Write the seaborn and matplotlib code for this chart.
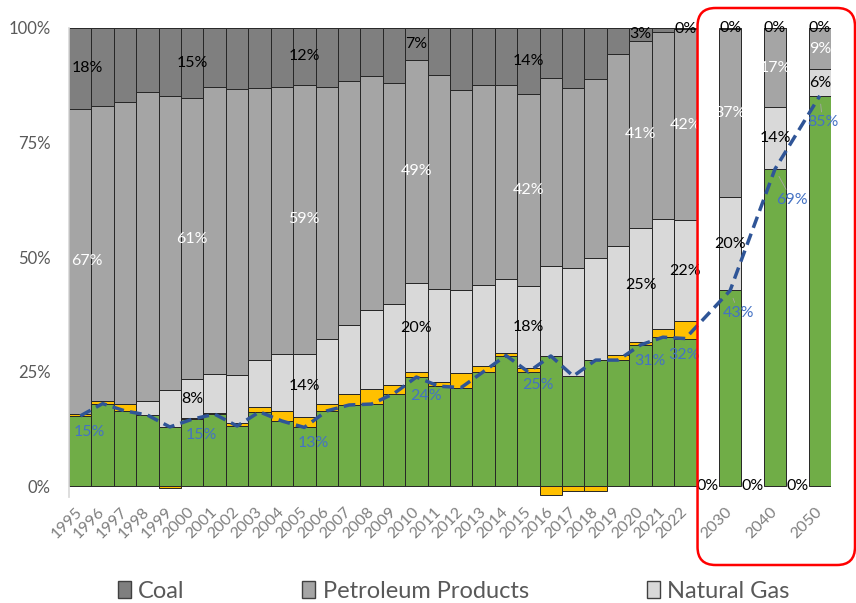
import numpy as np
import pandas as pd
import matplotlib
matplotlib.use('Agg')
import matplotlib.pyplot as plt
import seaborn as sns
from matplotlib.patches import Patch, FancyBboxPatch
from matplotlib.ticker import MultipleLocator, PercentFormatter
from matplotlib.transforms import IdentityTransform

sns.set_theme(style='white')
plt.rcParams['font.family'] = ['Lato', 'DejaVu Sans']

# categories ('' = empty gap column)
categories = ['1995', '1996', '1997', '1998', '1999', '2000', '2001', '2002', '2003', '2004',
              '2005', '2006', '2007', '2008', '2009', '2010', '2011', '2012', '2013', '2014',
              '2015', '2016', '2017', '2018', '2019', '2020', '2021', '2022',
              '', '2030', '', '2040', '', '2050']

# shares in %
green = [15.3, 18.0, 16.4, 15.5, 12.9, 14.6, 15.7, 13.1, 16.2, 14.2,
         12.8, 16.4, 17.7, 17.9, 20.2, 23.8, 21.8, 21.5, 25.0, 28.5,
         24.9, 28.4, 24.0, 27.5, 27.5, 30.8, 32.5, 32.2,
         None, 42.7, None, 69.2, None, 85.2]
other = [0.4, 0.6, 1.6, 0.1, -0.4, 0.3, 0.2, 0.7, 1.0, 2.2,
         2.2, 1.6, 2.3, 3.3, 1.8, 1.0, 1.0, 3.1, 1.2, 0.5,
         0.9, -2.0, -1.0, -1.0, 1.1, 0.6, 1.8, 3.8,
         None, 0.0, None, 0.0, None, 0.0]
gas = [0.0, 0.0, 0.0, 3.0, 8.0, 8.4, 8.6, 10.4, 10.3, 12.4,
       13.9, 14.0, 15.2, 17.2, 17.7, 19.6, 20.2, 18.3, 17.6, 16.1,
       17.9, 19.7, 23.7, 22.3, 23.7, 24.9, 24.1, 22.1,
       None, 20.4, None, 13.6, None, 5.8]
petroleum = [66.7, 64.4, 65.8, 67.5, 64.3, 61.4, 62.7, 62.5, 59.5, 58.3,
             58.7, 55.1, 53.3, 51.1, 48.4, 48.6, 46.8, 43.5, 43.8, 42.5,
             41.9, 41.0, 39.2, 39.1, 42.0, 40.9, 40.8, 41.6,
             None, 36.7, None, 17.1, None, 8.9]
coal = [17.6, 17.0, 16.2, 13.9, 14.8, 15.3, 12.8, 13.3, 13.0, 12.9,
        12.4, 12.9, 11.5, 10.5, 11.9, 7.0, 10.2, 13.6, 12.4, 12.4,
        14.4, 10.9, 13.1, 11.1, 5.7, 2.8, 0.8, 0.3,
        None, 0.2, None, 0.1, None, 0.1]

label_years = ['1995', '2000', '2005', '2010', '2015', '2020', '2022', '2030', '2040', '2050']
future_years = ['2030', '2040', '2050']

C_COAL, C_PET, C_GAS = '#7f7f7f', '#a5a5a5', '#d9d9d9'
C_OTHER, C_GREEN = '#ffc000', '#70ad47'
C_LINE, C_LBL = '#2f5597', '#4472c4'

df = pd.DataFrame({'year': categories, 'green': green, 'other': other, 'gas': gas,
                   'petroleum': petroleum, 'coal': coal})
for c in ['green', 'other', 'gas', 'petroleum', 'coal']:
    df[c] = pd.to_numeric(df[c]) / 100
df['pos'] = np.arange(len(df))
b = df.dropna().copy()
b['oth_bot'] = np.where(b.other >= 0, b.green, 0)
b['gas_bot'] = b.green + b.other.clip(lower=0)
b['pet_bot'] = b.gas_bot + b.gas
b['coal_bot'] = b.pet_bot + b.petroleum

fig, ax = plt.subplots(figsize=(8.56, 6.03), dpi=100)
fig.subplots_adjust(left=69 / 856, right=831 / 856, top=1 - 28 / 603, bottom=1 - 497.5 / 603)

kw = dict(width=1.0, edgecolor='#262626', linewidth=0.7)
ax.bar(b.pos, b.green, color=C_GREEN, **kw)
ax.bar(b.pos, b.other, bottom=b.oth_bot, color=C_OTHER, **kw)
ax.bar(b.pos, b.gas, bottom=b.gas_bot, color=C_GAS, **kw)
ax.bar(b.pos, b.petroleum, bottom=b.pet_bot, color=C_PET, **kw)
ax.bar(b.pos, b.coal, bottom=b.coal_bot, color=C_COAL, **kw)

sns.lineplot(x=b.pos, y=b.green, ax=ax, color=C_LINE, linewidth=2.5,
             linestyle=(0, (3.4, 1.8)), zorder=5)

fs = 11.5
lead = {'2030': (6, -16), '2040': (12, -22), '2050': (2, -19)}
blue_off = {'2010': (7, -13.5), '2015': (7, -9.5), '2022': (-1, -12)}
for _, r in b[b.year.isin(label_years)].iterrows():
    dx = 5 if r.pos == 0 else 0
    for val, bot, col in [(r.coal, r.coal_bot, 'black'), (r.petroleum, r.pet_bot, 'white'),
                          (r.gas, r.gas_bot, 'black')]:
        if val == 0:
            continue
        ax.annotate(f'{val:.0%}', (r.pos, bot + val / 2), xytext=(dx, 0), textcoords='offset points',
                    ha='center', va='center', fontsize=fs, color=col, zorder=6)
    if r.year in lead:
        ax.annotate(f'{r.green:.0%}', (r.pos, r.green), xytext=lead[r.year], textcoords='offset points',
                    ha='center', va='center', fontsize=fs, color=C_LBL, zorder=6,
                    arrowprops=dict(arrowstyle='-', color='#a6a6a6', lw=0.6, shrinkA=0, shrinkB=6))
    else:
        ax.annotate(f'{r.green:.0%}', (r.pos, r.green), xytext=blue_off.get(r.year, (6.5, -11.5)),
                    textcoords='offset points', ha='center', va='center', fontsize=fs,
                    color=C_LBL, zorder=6)

# labels of the zero "other" share, shown in the gap columns
for _, r in b[b.year.isin(future_years)].iterrows():
    ax.text(r.pos - 1, 0, f'{r.other:.0%}', ha='center', va='center', fontsize=fs, color='black')

ax.set_xlim(-0.5, len(df) - 0.5)
ax.set_ylim(-0.025, 1.0)
ax.set_xlabel('')
ax.set_ylabel('')
ax.set_xticks(df.pos)
ax.set_xticklabels(df.year, rotation=45, ha='right', rotation_mode='anchor', va='center')
ax.set_yticks([0, 0.25, 0.5, 0.75, 1.0])
ax.yaxis.set_minor_locator(MultipleLocator(0.05))
ax.yaxis.set_major_formatter(PercentFormatter(1.0, decimals=0))
ax.tick_params(axis='x', length=0, pad=9, labelsize=11.5, labelcolor='#7f7f7f')
ax.tick_params(axis='y', which='both', direction='in', length=5, color='#e6e6e6',
               labelsize=12, labelcolor='#595959', pad=13)
for s in ['top', 'right', 'bottom']:
    ax.spines[s].set_visible(False)
ax.spines['left'].set_color('#d9d9d9')

# red frame round the projection years
x0 = ax.transData.transform((27.5, 0))[0] + 1
H = 603
frame = FancyBboxPatch((x0, H - 565), 855 - x0, 557, boxstyle='round,pad=0,rounding_size=18',
                       transform=IdentityTransform(), fill=False, edgecolor='#ff0000', linewidth=1.8)
fig.add_artist(frame)

handles = [Patch(facecolor=C_COAL, edgecolor='#404040'),
           Patch(facecolor=C_PET, edgecolor='#404040'),
           Patch(facecolor=C_GAS, edgecolor='#404040')]
fig.legend(handles, ['Coal', 'Petroleum Products', 'Natural Gas'], loc='center',
           bbox_to_anchor=(453.5 / 856, 1 - 591 / 603), ncol=3, frameon=False, fontsize=17,
           handlelength=0.55, handleheight=0.7, handletextpad=0.3, columnspacing=5.0,
           labelcolor='#595959')

fig.savefig('out.png', dpi=100)
